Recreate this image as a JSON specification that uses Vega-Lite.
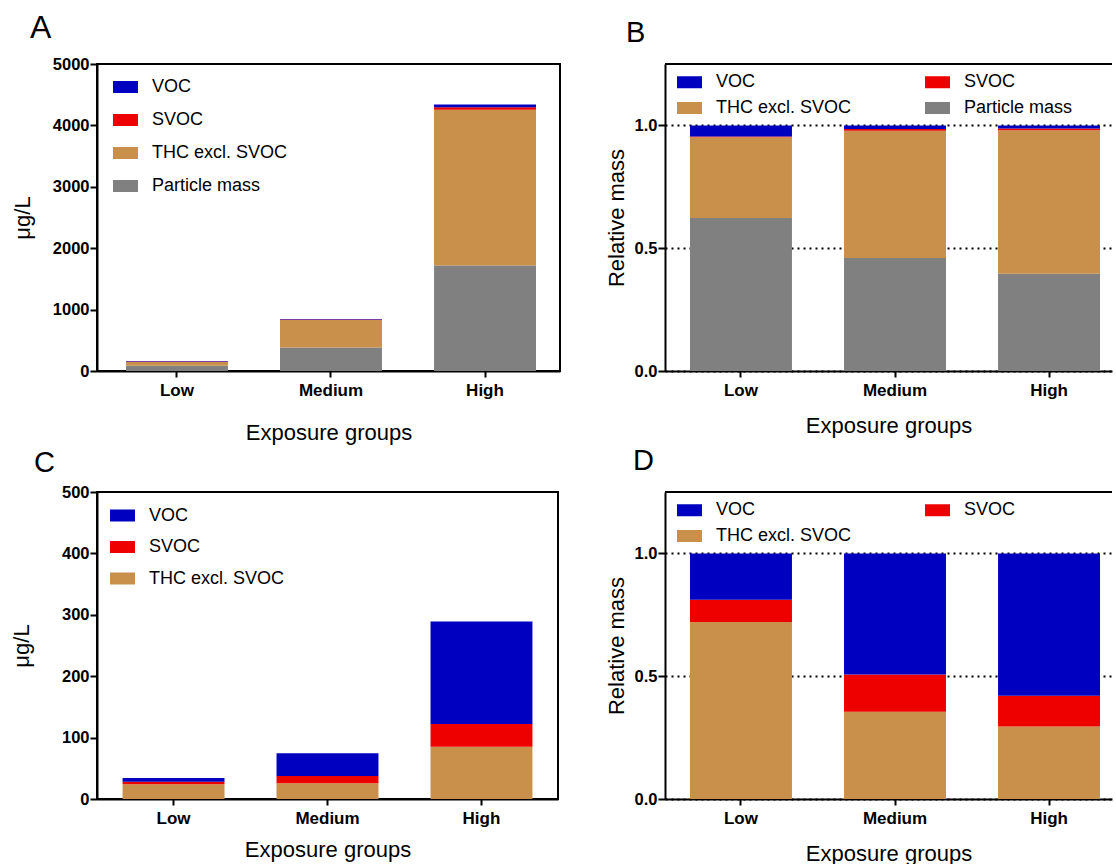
{
  "$schema": "https://vega.github.io/schema/vega-lite/v6.json",
  "background": "white",
  "padding": {"left": 9, "top": 11, "right": 0, "bottom": 0},
  "columns": 2,
  "spacing": {"row": 121, "column": 105},
  "bounds": "flush",
  "datasets": {
    "a": [
      {"group": "Low", "component": "Particle mass", "value": 87, "order": 1},
      {"group": "Low", "component": "THC excl. SVOC", "value": 60, "order": 2},
      {"group": "Low", "component": "SVOC", "value": 6, "order": 3},
      {"group": "Low", "component": "VOC", "value": 11, "order": 4},
      {"group": "Medium", "component": "Particle mass", "value": 382, "order": 1},
      {"group": "Medium", "component": "THC excl. SVOC", "value": 447, "order": 2},
      {"group": "Medium", "component": "SVOC", "value": 8, "order": 3},
      {"group": "Medium", "component": "VOC", "value": 9, "order": 4},
      {"group": "High", "component": "Particle mass", "value": 1718, "order": 1},
      {"group": "High", "component": "THC excl. SVOC", "value": 2535, "order": 2},
      {"group": "High", "component": "SVOC", "value": 44, "order": 3},
      {"group": "High", "component": "VOC", "value": 43, "order": 4}
    ],
    "b": [
      {"group": "Low", "component": "Particle mass", "value": 0.623, "order": 1},
      {"group": "Low", "component": "THC excl. SVOC", "value": 0.329, "order": 2},
      {"group": "Low", "component": "SVOC", "value": 0.003, "order": 3},
      {"group": "Low", "component": "VOC", "value": 0.045, "order": 4},
      {"group": "Medium", "component": "Particle mass", "value": 0.46, "order": 1},
      {"group": "Medium", "component": "THC excl. SVOC", "value": 0.518, "order": 2},
      {"group": "Medium", "component": "SVOC", "value": 0.007, "order": 3},
      {"group": "Medium", "component": "VOC", "value": 0.015, "order": 4},
      {"group": "High", "component": "Particle mass", "value": 0.396, "order": 1},
      {"group": "High", "component": "THC excl. SVOC", "value": 0.584, "order": 2},
      {"group": "High", "component": "SVOC", "value": 0.007, "order": 3},
      {"group": "High", "component": "VOC", "value": 0.013, "order": 4}
    ],
    "c": [
      {"group": "Low", "component": "THC excl. SVOC", "value": 24, "order": 2},
      {"group": "Low", "component": "SVOC", "value": 4, "order": 3},
      {"group": "Low", "component": "VOC", "value": 6, "order": 4},
      {"group": "Medium", "component": "THC excl. SVOC", "value": 25.5, "order": 2},
      {"group": "Medium", "component": "SVOC", "value": 12, "order": 3},
      {"group": "Medium", "component": "VOC", "value": 37, "order": 4},
      {"group": "High", "component": "THC excl. SVOC", "value": 85.3, "order": 2},
      {"group": "High", "component": "SVOC", "value": 37, "order": 3},
      {"group": "High", "component": "VOC", "value": 166.7, "order": 4}
    ],
    "d": [
      {"group": "Low", "component": "THC excl. SVOC", "value": 0.721, "order": 2},
      {"group": "Low", "component": "SVOC", "value": 0.09, "order": 3},
      {"group": "Low", "component": "VOC", "value": 0.189, "order": 4},
      {"group": "Medium", "component": "THC excl. SVOC", "value": 0.355, "order": 2},
      {"group": "Medium", "component": "SVOC", "value": 0.152, "order": 3},
      {"group": "Medium", "component": "VOC", "value": 0.493, "order": 4},
      {"group": "High", "component": "THC excl. SVOC", "value": 0.295, "order": 2},
      {"group": "High", "component": "SVOC", "value": 0.125, "order": 3},
      {"group": "High", "component": "VOC", "value": 0.58, "order": 4}
    ]
  },
  "concat": [
    {
      "title": {"text": "A", "dx": -67, "offset": 11},
      "width": 463,
      "height": 307,
      "data": {"name": "a"},
      "mark": {"type": "bar"},
      "encoding": {
        "x": {"field": "group", "type": "nominal", "sort": ["Low", "Medium", "High"],
          "scale": {"paddingInner": 0.338, "paddingOuter": 0.172, "align": 0.547},
          "axis": {"title": "Exposure groups", "titlePadding": 24}},
        "y": {"field": "value", "type": "quantitative", "stack": "zero",
          "scale": {"domain": [0, 5000], "nice": false},
          "axis": {"title": "μg/L", "values": [0, 1000, 2000, 3000, 4000, 5000], "format": "d", "titlePadding": 18}},
        "color": {"field": "component", "type": "nominal",
          "scale": {"domain": ["VOC", "SVOC", "THC excl. SVOC", "Particle mass"], "range": ["#0000c0", "#ee0000", "#c8904a", "#808080"]},
          "legend": {"orient": "none", "legendX": 16, "legendY": 10.5, "title": null, "rowPadding": 11}},
        "order": {"field": "order", "type": "quantitative"}
      }
    },
    {
      "title": {"text": "B", "dx": -39, "offset": 15, "fontSize": 29},
      "width": 447,
      "height": 307,
      "view": {"stroke": null},
      "data": {"name": "b"},
      "layer": [
        {
          "mark": {"type": "bar"},
          "encoding": {
            "x": {"field": "group", "type": "nominal", "sort": ["Low", "Medium", "High"],
              "scale": {"paddingInner": 0.338, "paddingOuter": 0.12, "align": 0.676},
              "axis": {"title": "Exposure groups", "titlePadding": 17}},
            "y": {"field": "value", "type": "quantitative", "stack": "zero",
              "scale": {"domain": [0, 1.25], "nice": false},
              "axis": {"title": "Relative mass", "values": [0, 0.5, 1], "format": ".1f", "titlePadding": 6,
                "grid": true, "gridDash": [2, 4], "gridColor": "black", "gridWidth": 2}},
            "color": {"field": "component", "type": "nominal",
              "scale": {"domain": ["VOC", "THC excl. SVOC", "SVOC", "Particle mass"], "range": ["#0000c0", "#c8904a", "#ee0000", "#808080"]},
              "legend": {"orient": "none", "legendX": 12, "legendY": 5.5, "title": null, "columns": 2, "columnPadding": 73, "rowPadding": 4}},
            "order": {"field": "order", "type": "quantitative"}
          }
        },
        {
          "data": {"values": [{"edge": "top"}]},
          "mark": {"type": "rule", "color": "black", "strokeWidth": 2},
          "encoding": {"y": {"datum": 1.25}}
        }
      ]
    },
    {
      "title": {"text": "C", "dx": -63, "offset": 6, "fontSize": 29},
      "width": 461,
      "height": 307,
      "data": {"name": "c"},
      "mark": {"type": "bar"},
      "encoding": {
        "x": {"field": "group", "type": "nominal", "sort": ["Low", "Medium", "High"],
          "scale": {"paddingInner": 0.338, "paddingOuter": 0.166, "align": 0.5},
          "axis": {"title": "Exposure groups", "titlePadding": 13}},
        "y": {"field": "value", "type": "quantitative", "stack": "zero",
          "scale": {"domain": [0, 500], "nice": false},
          "axis": {"title": "μg/L", "values": [0, 100, 200, 300, 400, 500], "format": "d", "titlePadding": 28}},
        "color": {"field": "component", "type": "nominal",
          "scale": {"domain": ["VOC", "SVOC", "THC excl. SVOC"], "range": ["#0000c0", "#ee0000", "#c8904a"]},
          "legend": {"orient": "none", "legendX": 13, "legendY": 11, "title": null, "rowPadding": 9.5}},
        "order": {"field": "order", "type": "quantitative"}
      }
    },
    {
      "title": {"text": "D", "dx": -32, "offset": 15, "fontSize": 29},
      "width": 447,
      "height": 307,
      "view": {"stroke": null},
      "data": {"name": "d"},
      "layer": [
        {
          "mark": {"type": "bar"},
          "encoding": {
            "x": {"field": "group", "type": "nominal", "sort": ["Low", "Medium", "High"],
              "scale": {"paddingInner": 0.338, "paddingOuter": 0.12, "align": 0.676},
              "axis": {"title": "Exposure groups", "titlePadding": 17}},
            "y": {"field": "value", "type": "quantitative", "stack": "zero",
              "scale": {"domain": [0, 1.25], "nice": false},
              "axis": {"title": "Relative mass", "values": [0, 0.5, 1], "format": ".1f", "titlePadding": 6,
                "grid": true, "gridDash": [2, 4], "gridColor": "black", "gridWidth": 2}},
            "color": {"field": "component", "type": "nominal",
              "scale": {"domain": ["VOC", "THC excl. SVOC", "SVOC"], "range": ["#0000c0", "#c8904a", "#ee0000"]},
              "legend": {"orient": "none", "legendX": 12, "legendY": 5.5, "title": null, "columns": 2, "columnPadding": 73, "rowPadding": 4}},
            "order": {"field": "order", "type": "quantitative"}
          }
        },
        {
          "data": {"values": [{"edge": "top"}]},
          "mark": {"type": "rule", "color": "black", "strokeWidth": 2},
          "encoding": {"y": {"datum": 1.25}}
        }
      ]
    }
  ],
  "resolve": {
    "scale": {"x": "independent", "y": "independent", "color": "independent"},
    "legend": {"color": "independent"}
  },
  "config": {
    "font": "Liberation Sans",
    "view": {"stroke": "black", "strokeWidth": 2},
    "axis": {
      "domainColor": "black", "domainWidth": 2,
      "tickColor": "black", "tickWidth": 2, "tickSize": 7,
      "labelFont": "Liberation Sans", "labelFontWeight": "bold", "labelFontSize": 16.5, "labelColor": "black", "labelPadding": 1,
      "titleFont": "Liberation Sans", "titleFontWeight": "normal", "titleFontSize": 22, "titleColor": "black",
      "grid": false
    },
    "axisX": {"labelAngle": 0, "labelPadding": 5, "labelFontSize": 17, "tickSize": 6},
    "legend": {
      "symbolType": "M-1,-0.48H1V0.48H-1Z", "symbolSize": 625, "symbolStrokeWidth": 0, "symbolOpacity": 1,
      "labelFont": "Liberation Sans", "labelFontSize": 18, "labelColor": "black", "labelOffset": 14, "padding": 0, "labelLimit": 200
    },
    "title": {"fontSize": 32, "fontWeight": "normal", "anchor": "start", "frame": "group", "color": "black", "font": "Liberation Sans"}
  }
}
